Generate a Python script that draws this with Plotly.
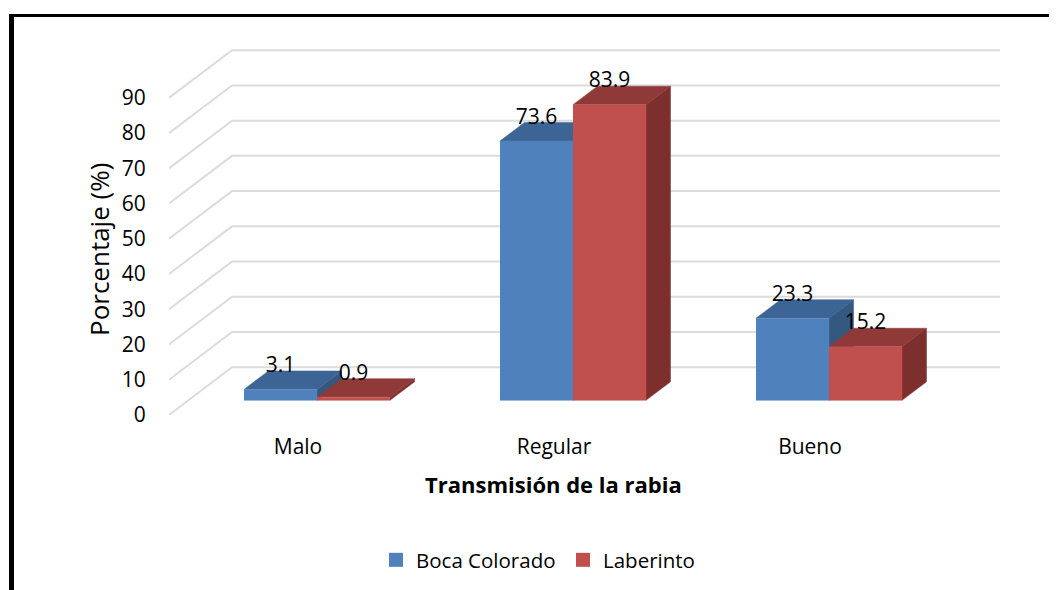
'''
    Bar chart with a drawn 3D look: Transmisión de la rabia by zone.
'''
import plotly.graph_objects as go

categories = ['Malo', 'Regular', 'Bueno']
boca_colorado = [3.1, 73.6, 23.3]
laberinto = [0.9, 83.9, 15.2]
y_ticks = [0, 10, 20, 30, 40, 50, 60, 70, 80, 90]

FONT = 'Open Sans'
FONT_SIZE = 21
GRID = '#dcdcdc'

# Boca Colorado / Laberinto : front, top and side colours
BLUE = ('#4f81bd', '#3c6494', '#345880')
RED = ('#c0504d', '#8f3a38', '#7d2f2e')

# All pixel values are page pixels. The page body keeps its 8px margin
# so the figure is smaller than the window by that much.
PAGE_W, PAGE_H, BODY = 1057, 590, 8
LEFT, RIGHT, TOP, BOTTOM = 169, 1000, 45, 415
Y_MAX = 105
X_UNIT = 256  # pixels between two categories
Y_UNIT = (BOTTOM - TOP) / Y_MAX
X_MIN = (LEFT - 317) / X_UNIT
X_MAX = (RIGHT - 317) / X_UNIT

BAR_W = 73 / X_UNIT
# depth of a bar, depth of the whole floor, gap in front of the bars
DEPTH_X = 24.5 / X_UNIT
DEPTH_Y = 18.5 / Y_UNIT
FLOOR_X = 63 / X_UNIT
FLOOR_Y = 47.7 / Y_UNIT
BASE = 14.7 / Y_UNIT
LABEL_GAP = 22.5 / Y_UNIT


def paper_x(px):
    return (px - LEFT) / (RIGHT - LEFT)


def paper_y(px):
    return (BOTTOM - px) / (BOTTOM - TOP)


def add_face(fig, xs, ys, color):
    fig.add_trace(go.Scatter(x=xs, y=ys, mode='lines', fill='toself', fillcolor=color,
                             line=dict(color=color, width=0.5),
                             hoverinfo='skip', showlegend=False))


def add_box(fig, x0, value, colors):
    '''
        Adds the side, the top and the front of one bar.
    '''
    x1 = x0 + BAR_W
    top = BASE + value
    add_face(fig, [x1, x1 + DEPTH_X, x1 + DEPTH_X, x1],
             [BASE, BASE + DEPTH_Y, top + DEPTH_Y, top], colors[2])
    add_face(fig, [x0, x0 + DEPTH_X, x1 + DEPTH_X, x1],
             [top, top + DEPTH_Y, top + DEPTH_Y, top], colors[1])
    add_face(fig, [x0, x1, x1, x0], [BASE, BASE, top, top], colors[0])


fig = go.Figure()

# Gridlines run along the floor side and then along the back wall
grid_x = []
grid_y = []
for tick in y_ticks:
    grid_x += [X_MIN, X_MIN + FLOOR_X, X_MAX, None]
    grid_y += [tick, tick + FLOOR_Y, tick + FLOOR_Y, None]
fig.add_trace(go.Scatter(x=grid_x, y=grid_y, mode='lines',
                         line=dict(color=GRID, width=2),
                         hoverinfo='skip', showlegend=False))

for i in range(len(categories)):
    add_box(fig, i - BAR_W, boca_colorado[i], BLUE)
    add_box(fig, i, laberinto[i], RED)

# Data labels
label_x = []
label_y = []
label_text = []
for i in range(len(categories)):
    label_x += [i - BAR_W / 2, i + BAR_W / 2]
    label_y += [BASE + boca_colorado[i] + LABEL_GAP, BASE + laberinto[i] + LABEL_GAP]
    label_text += [str(boca_colorado[i]), str(laberinto[i])]
fig.add_trace(go.Scatter(x=label_x, y=label_y, text=label_text, mode='text',
                         textposition='middle center',
                         textfont=dict(family=FONT, size=FONT_SIZE, color='black'),
                         hoverinfo='skip', showlegend=False))

# Legend entries only
fig.add_trace(go.Scatter(x=[None], y=[None], mode='markers', name='Boca Colorado',
                         marker=dict(symbol='square', size=14, color=BLUE[0])))
fig.add_trace(go.Scatter(x=[None], y=[None], mode='markers', name='Laberinto',
                         marker=dict(symbol='square', size=14, color=RED[0])))

fig.update_xaxes(range=[X_MIN, X_MAX], showgrid=False, zeroline=False, showline=False,
                 tickmode='array', tickvals=[i - 19 / X_UNIT for i in range(len(categories))],
                 ticktext=categories, ticks='outside', ticklen=13,
                 tickcolor='rgba(0,0,0,0)', tickfont=dict(family=FONT, size=FONT_SIZE, color='black'))
fig.update_yaxes(range=[0, Y_MAX], showgrid=False, zeroline=False, showline=False,
                 tickmode='array', tickvals=y_ticks, ticks='outside', ticklen=18,
                 tickcolor='rgba(0,0,0,0)', tickfont=dict(family=FONT, size=21, color='black'))

fig.add_annotation(text='Porcentaje (%)', xref='paper', yref='paper',
                   x=paper_x(99), y=paper_y(250), xanchor='center', yanchor='middle',
                   showarrow=False, textangle=-90,
                   font=dict(family=FONT, size=26, color='black'))
fig.add_annotation(text='<b>Transmisión de la rabia</b>', xref='paper', yref='paper',
                   x=paper_x(553), y=paper_y(484), xanchor='center', yanchor='middle',
                   showarrow=False,
                   font=dict(family=FONT, size=22, color='black'))

# Black frame of the picture, open on the right and at the bottom
fig.add_shape(type='rect', xref='paper', yref='paper', layer='below', line=dict(width=0),
              fillcolor='black', x0=paper_x(9), x1=paper_x(PAGE_W), y0=paper_y(14), y1=paper_y(17))
fig.add_shape(type='rect', xref='paper', yref='paper', layer='below', line=dict(width=0),
              fillcolor='black', x0=paper_x(9), x1=paper_x(14), y0=paper_y(14), y1=paper_y(PAGE_H))

fig.update_layout(width=PAGE_W - BODY, height=PAGE_H - BODY,
                  paper_bgcolor='white', plot_bgcolor='rgba(0,0,0,0)',
                  margin=dict(l=LEFT - BODY, r=PAGE_W - RIGHT, t=TOP - BODY, b=PAGE_H - BOTTOM,
                              autoexpand=False),
                  legend=dict(orientation='h', x=paper_x(376), y=paper_y(560),
                              xanchor='left', yanchor='middle', entrywidth=142, entrywidthmode='pixels',
                              font=dict(family=FONT, size=20.5, color='black')))

fig.write_html("out.html")
